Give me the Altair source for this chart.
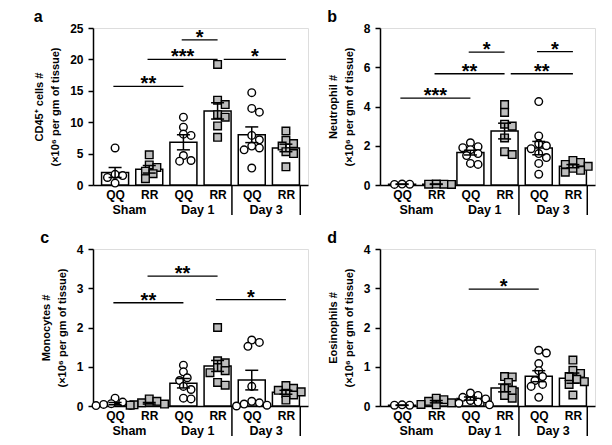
import altair as alt
import pandas as pd

# ---------------- data ----------------
CATS = ["QQ", "RR", "QQ", "RR", "QQ", "RR"]
GROUPS = ["Sham", "Day 1", "Day 3"]
UNIT = "(×10⁶ per gm of tissue)"

# panel a : CD45+ cells
a_title = ["CD45⁺ cells #", UNIT]
a_ymax, a_step = 25, 5
a_pts = [
    [5.9, 1.7, 1.5, 1.2, 0.3],
    [4.8, 3.2, 2.8, 2.2, 1.8, 1.0],
    [10.8, 9.2, 8.1, 7.9, 4.7, 3.9, 3.8],
    [19.2, 13.5, 12.8, 11.2, 10.8, 9.4, 7.6],
    [14.7, 12.2, 11.6, 7.9, 7.2, 6.2, 5.9, 5.6, 2.7],
    [8.6, 7.1, 6.6, 6.2, 5.3, 5.0, 2.9],
]
a_mean = [2.0, 2.5, 6.8, 11.8, 8.0, 5.9]
a_sem = [0.8, 0.6, 1.2, 1.3, 1.25, 0.6]
a_sig_from = [0, 1, 2, 3]
a_sig_to = [2, 3, 3, 5]
a_sig_y = [15.7, 20.0, 23.1, 20.0]
a_sig_txt = ["**", "***", "*", "*"]

# panel b : neutrophils
b_title = ["Neutrophil #", UNIT]
b_ymax, b_step = 8, 2
b_pts = [
    [0.05, 0.03, 0.04],
    [0.04, 0.03, 0.05, 0.04],
    [2.15, 1.95, 1.9, 1.8, 1.6, 1.5, 1.1, 1.05],
    [4.1, 3.7, 3.1, 3.0, 2.4, 1.7, 1.55],
    [4.25, 2.5, 2.1, 2.0, 1.85, 1.6, 1.4, 1.1, 0.55],
    [1.25, 1.15, 1.05, 0.95, 0.85, 0.75, 0.65],
]
b_mean = [0.04, 0.04, 1.65, 2.75, 1.88, 0.96]
b_sem = [0.01, 0.01, 0.12, 0.4, 0.34, 0.08]
b_sig_from = [0, 1, 2, 3, 4]
b_sig_to = [2, 3, 3, 5, 5]
b_sig_y = [4.43, 5.67, 6.77, 5.67, 6.8]
b_sig_txt = ["***", "**", "*", "**", "*"]

# panel c : monocytes
c_title = ["Monocytes #", UNIT]
c_ymax, c_step = 4, 1
c_pts = [
    [0.2, 0.1, 0.06, 0.04, 0.02, 0.01],
    [0.18, 0.12, 0.08, 0.05, 0.03, 0.02],
    [1.04, 0.87, 0.72, 0.65, 0.5, 0.42, 0.2, 0.18],
    [2.0, 1.15, 1.1, 0.98, 0.9, 0.85, 0.6, 0.53],
    [1.68, 1.62, 1.52, 0.5, 0.12, 0.08, 0.05, 0.02, 0.0],
    [0.52, 0.45, 0.4, 0.36, 0.32, 0.28, 0.15],
]
c_mean = [0.06, 0.07, 0.58, 1.02, 0.66, 0.35]
c_sem = [0.03, 0.02, 0.12, 0.14, 0.25, 0.05]
c_sig_from = [0, 1, 3]
c_sig_to = [2, 3, 5]
c_sig_y = [2.63, 3.31, 2.71]
c_sig_txt = ["**", "**", "*"]

# panel d : eosinophils
d_title = ["Eosinophils #", UNIT]
d_ymax, d_step = 4, 1
d_pts = [
    [0.02, 0.03, 0.02],
    [0.2, 0.16, 0.12, 0.08, 0.04, 0.03],
    [0.33, 0.27, 0.22, 0.18, 0.14, 0.1, 0.07, 0.03],
    [0.75, 0.74, 0.6, 0.45, 0.4, 0.27, 0.2],
    [1.42, 1.35, 1.08, 0.9, 0.75, 0.65, 0.55, 0.5, 0.22],
    [1.17, 0.91, 0.83, 0.75, 0.68, 0.62, 0.55, 0.28],
]
d_mean = [0.02, 0.11, 0.19, 0.46, 0.76, 0.71]
d_sem = [0.005, 0.03, 0.04, 0.1, 0.14, 0.13]
d_sig_from = [2]
d_sig_to = [4]
d_sig_y = [2.98]
d_sig_txt = ["*"]

# ---------------- layout / style ----------------
W, H = 215, 157
STEP = W / len(CATS)
FONT = "Liberation Sans"


def swarm(vals, ymax):
    """simple deterministic beeswarm: horizontal offsets (in x units)"""
    cands = [0.0]
    for j in range(1, 6):
        cands += [j * 4.0, -j * 4.0]
    placed, offs = [], [0.0] * len(vals)
    for k in sorted(range(len(vals)), key=lambda i: -vals[i]):
        py = vals[k] / ymax * H
        chosen = cands[-1]
        for c in cands:
            if all((c - px) ** 2 + (py - qy) ** 2 >= 6.5 ** 2 for px, qy in placed):
                chosen = c
                break
        placed.append((chosen, py))
        offs[k] = chosen / STEP
    return offs


def panel(letter, title, ymax, ystep, pts, mean, sem, sfrom, sto, sy, stxt):
    xaxis = alt.Axis(
        values=list(range(len(CATS))),
        labelExpr="[" + ",".join(f"'{c}'" for c in CATS) + "][datum.value]",
        ticks=False, tickSize=0, labelPadding=4, title=None, grid=False,
        domainColor="black", domainWidth=1.5, labelFontSize=12,
        labelFontWeight="bold", labelColor="black", labelFont=FONT,
    )
    yaxis = alt.Axis(
        values=list(range(0, ymax + 1, ystep)), title=title, grid=False,
        titleFont=FONT, titleFontSize=11, titleFontWeight="bold",
        titleColor="black", titlePadding=9, titleLineHeight=16,
        labelFontSize=12, labelFontWeight="bold", labelColor="black",
        labelFont=FONT, labelPadding=5, tickSize=5, tickWidth=1.5,
        tickColor="black", domainColor="black", domainWidth=1.5,
    )

    def X(f):
        return alt.X(f"{f}:Q", scale=alt.Scale(domain=[-0.5, len(CATS) - 0.5]), axis=xaxis)

    def Y(f):
        return alt.Y(f"{f}:Q", scale=alt.Scale(domain=[0, ymax]), axis=yaxis)

    idx = list(range(len(CATS)))
    bar_df = pd.DataFrame({
        "x": idx, "m": mean,
        "lo": [m - s for m, s in zip(mean, sem)],
        "hi": [m + s for m, s in zip(mean, sem)],
    })
    rows = []
    for i, vals in enumerate(pts):
        for v, o in zip(vals, swarm(vals, ymax)):
            rows.append({"x": i + o, "v": v, "g": CATS[i]})
    pts_df = pd.DataFrame(rows)

    sig_rows = []
    for k, (f, t, y, s) in enumerate(zip(sfrom, sto, sy, stxt)):
        x1 = f - 0.05
        for j in range(k):
            if sto[j] == f and abs(sy[j] - y) < 1e-9:
                x1 = f + 0.18
        x2 = t
        sig_rows.append({"x1": x1, "x2": x2, "xm": (x1 + x2) / 2, "sy": y, "t": s})
    sig_df = pd.DataFrame(sig_rows)

    sep_df = pd.DataFrame({"x": [2 * g + 1.42 for g in range(1, len(GROUPS))],
                           "y0": [0] * (len(GROUPS) - 1)})
    grp_df = pd.DataFrame({"x": [2 * g + 0.42 for g in range(len(GROUPS))], "t": GROUPS})

    bars = alt.Chart(bar_df).mark_bar(
        orient="vertical", size=27, fill="white", stroke="black", strokeWidth=1.5
    ).encode(x=X("x"), y=Y("m"))
    circ = alt.Chart(pts_df).transform_filter("datum.g == 'QQ'").mark_point(
        shape="circle", filled=True, fill="white", stroke="black", strokeWidth=1.4,
        size=58, opacity=1
    ).encode(x=X("x"), y=Y("v"))
    sq = alt.Chart(pts_df).transform_filter("datum.g == 'RR'").mark_point(
        shape="square", filled=True, fill="#bdbdbd", stroke="black", strokeWidth=1.4,
        size=58, opacity=1
    ).encode(x=X("x"), y=Y("v"))
    err = alt.Chart(bar_df).mark_rule(color="black", strokeWidth=1.5).encode(
        x=X("x"), y=Y("lo"), y2="hi")
    cap_hi = alt.Chart(bar_df).mark_tick(
        orient="horizontal", color="black", size=13, thickness=1.5, opacity=1
    ).encode(x=X("x"), y=Y("hi"))
    cap_lo = alt.Chart(bar_df).mark_tick(
        orient="horizontal", color="black", size=13, thickness=1.5, opacity=1
    ).encode(x=X("x"), y=Y("lo"))
    sig_line = alt.Chart(sig_df).mark_rule(color="black", strokeWidth=1.3).encode(
        x=X("x1"), x2="x2", y=Y("sy"))
    sig_txt = alt.Chart(sig_df).mark_text(
        font=FONT, fontSize=20, fontWeight="bold", baseline="alphabetic", dy=4,
        color="black"
    ).encode(x=X("xm"), y=Y("sy"), text="t:N")
    sep = alt.Chart(sep_df).mark_rule(color="black", strokeWidth=1.5).encode(
        x=X("x"), y=Y("y0"), y2=alt.value(H + 30))
    grp = alt.Chart(grp_df).mark_text(
        font=FONT, fontSize=12.5, fontWeight="bold", baseline="alphabetic",
        color="black"
    ).encode(x=X("x"), y=alt.value(H + 29), text="t:N")

    return alt.layer(
        bars, circ, sq, err, cap_hi, cap_lo, sig_line, sig_txt, sep, grp
    ).properties(
        width=W, height=H,
        title=alt.TitleParams(letter, anchor="start", frame="bounds", fontSize=16,
                              fontWeight="bold", font=FONT, color="black",
                              baseline="alphabetic", offset=-16),
    )


pa = panel("a", a_title, a_ymax, a_step, a_pts, a_mean, a_sem,
           a_sig_from, a_sig_to, a_sig_y, a_sig_txt)
pb = panel("b", b_title, b_ymax, b_step, b_pts, b_mean, b_sem,
           b_sig_from, b_sig_to, b_sig_y, b_sig_txt)
pc = panel("c", c_title, c_ymax, c_step, c_pts, c_mean, c_sem,
           c_sig_from, c_sig_to, c_sig_y, c_sig_txt)
pd_ = panel("d", d_title, d_ymax, d_step, d_pts, d_mean, d_sem,
            d_sig_from, d_sig_to, d_sig_y, d_sig_txt)

chart = alt.concat(
    pa, pb, pc, pd_, columns=2, spacing={"row": 12, "column": 17}
).properties(
    padding={"left": 25, "top": 0, "right": 0, "bottom": 0},
    background="white",
).configure_view(stroke=None).configure(font=FONT)

chart.save("out.html", embed_options={"renderer": "svg", "actions": False})
